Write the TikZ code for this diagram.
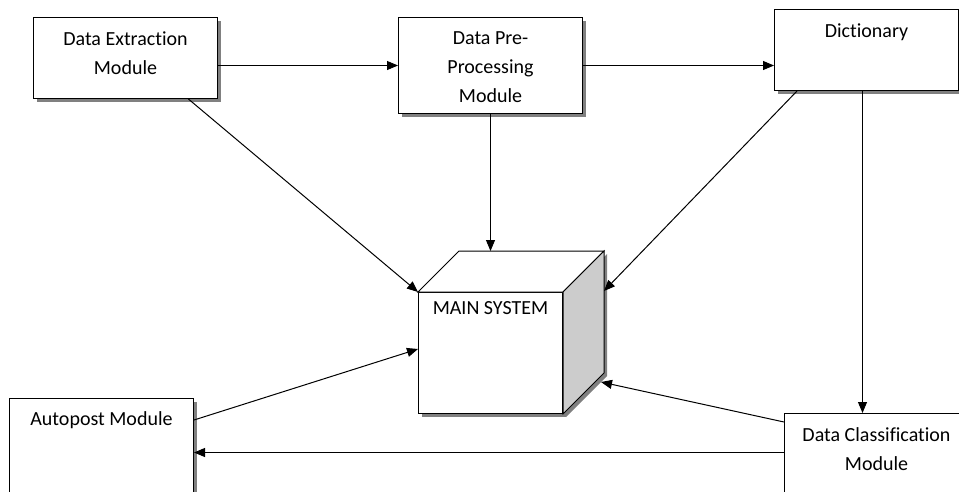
\documentclass[tikz,border=0pt]{standalone}
\usepackage{fontspec}
\setmainfont{Carlito}[Ligatures=NoCommon]
\usetikzlibrary{positioning,arrows.meta,shadows,calc}

\begin{document}
\begin{tikzpicture}
    [   x=1pt,y=-1pt,
        line width=1pt,
        boxshadow/.style={drop shadow={shadow xshift=3pt,shadow yshift=-3pt,fill=black!50,opacity=1}},
        box/.style={draw=black,fill=white,anchor=north west,minimum width=184pt,minimum height=#1,inner sep=0pt,boxshadow},
        txt/.style={align=center,inner sep=2pt,font=\fontsize{20}{29}\selectfont},
        arr/.style={-{Triangle[length=11pt,width=9pt]}},
    ]
    \clip (0,0) rectangle (959,491);
    % modules
    \node[box=81pt] (ext) at (33,17) {};
    \node[box=96pt] (pre) at (398,17) {};
    \node[box=81pt] (dict) at (774,9) {};
    \node[box=108pt] (auto) at (9,398) {};
    \node[box=108pt] (cls) at (784,413) {};
    % the cube
    \node[box=121pt,minimum width=144pt] (main) at (418,292) {};
    \coordinate (main-tl) at ($(main.north west)+(41,-41)$);
    \coordinate (main-tr) at ($(main.north east)+(41,-41)$);
    \coordinate (main-br) at ($(main.south east)+(41,-41)$);
    \draw[fill=white] (main.north west) -- (main-tl) -- (main-tr) -- (main.north east) -- cycle;
    \draw[fill=black!20,boxshadow] (main.north east) -- (main-tr) -- (main-br) -- (main.south east) -- cycle;
    % texts
    \node[txt,below=12pt of ext.north] (ext-t) {Data Extraction\\Module};
    \node[txt,below=12pt of pre.north] (pre-t) {Data Pre-\\Processing\\Module};
    \node[txt,below=12pt of dict.north] (dict-t) {Dictionary};
    \node[txt,below=11pt of auto.north] (auto-t) {Autopost Module};
    \node[txt,below=12pt of cls.north] (cls-t) {Data Classification\\Module};
    \node[txt,below=7pt of main.north] (main-t) {MAIN SYSTEM};
    % connections
    \draw[arr] (ext.east |- pre.west) -- (pre.west);
    \draw[arr] (pre.east) -- (dict.west |- pre.east);
    \draw[arr] ($(ext.south west)!.84!(ext.south east)$) -- (main.north west);
    \draw[arr] (pre.south) -- (pre.south |- main-tl);
    \draw[arr] ($(dict.south west)+(23,0)$) -- ($(main-tr)+(0,40)$);
    \draw[arr] ($(dict.south)+(-4,0)$) -- ($(cls.north)+(-14,0)$);
    \draw[arr] ($(auto.north east)+(0,22)$) -- ($(main.west)+(0,-4)$);
    \draw[arr] ($(cls.north west)+(0,9)$) -- ($(main-br)+(-3,9)$);
    \draw[arr] (cls.west |- auto.east) -- (auto.east);
\end{tikzpicture}
\end{document}
